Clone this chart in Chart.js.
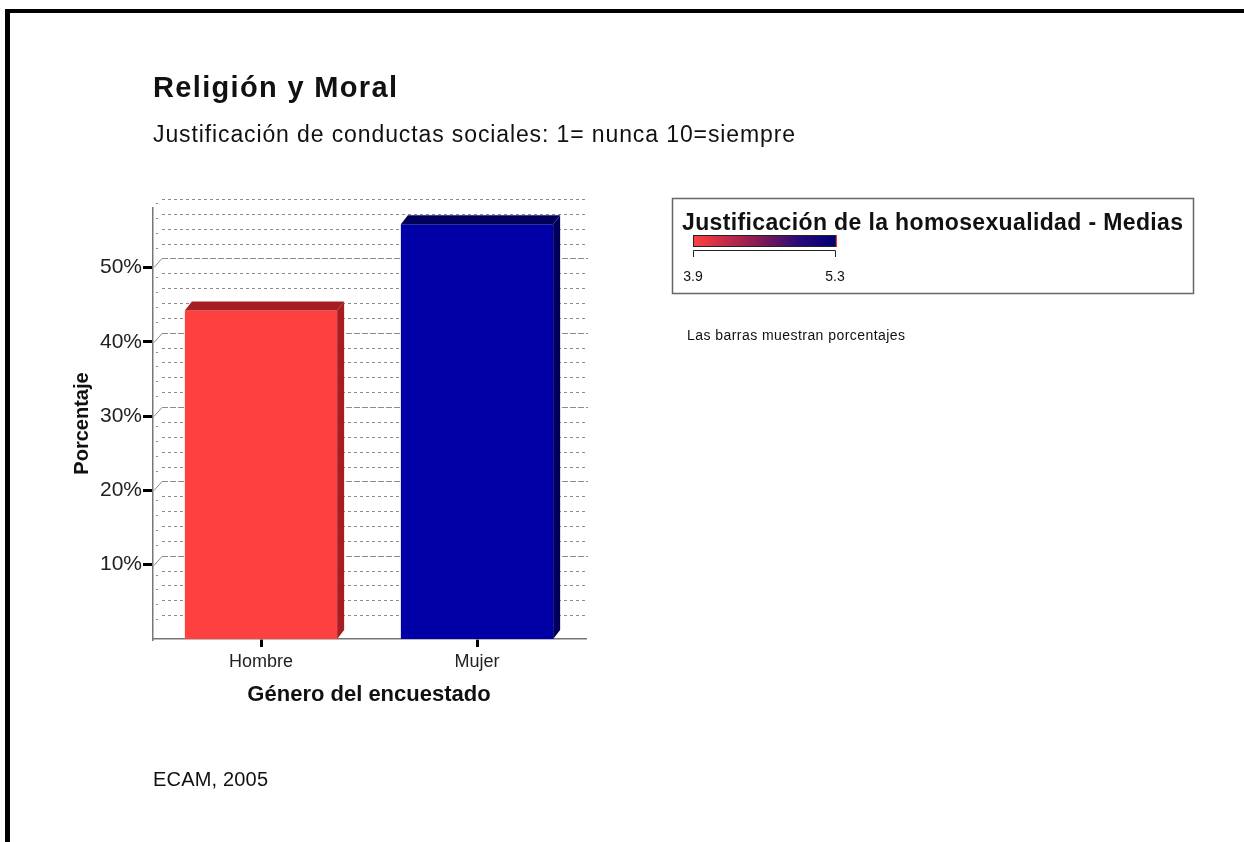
<!DOCTYPE html>
<html lang="es">
<head>
<meta charset="UTF-8">
<title>Religión y Moral</title>
<script src="https://cdn.jsdelivr.net/npm/chart.js"></script>
<style>
    body { margin: 0; background: #fff; }
    #wrap { width: 1244px; height: 842px; position: relative; }
</style>
</head>
<body>
<div id="wrap"><canvas id="chart" width="1244" height="842"></canvas></div>
<script>
    // datos
    const categorias = ['Hombre', 'Mujer'];
    const porcentajes = [44.2, 55.8];
    const medias = [3.9, 5.3];
    const ticksY = [10, 20, 30, 40, 50];
    const coloresFrente = ['#ff4040', '#0000a6'];
    const coloresLado = ['#a61e22', '#00005a'];

    const FONT = '"Liberation Sans", Arial, sans-serif';
    const DX = 7, DY = 9; // profundidad del efecto 3D

    // texto con espaciado ajustado a un ancho dado
    function textoAncho(ctx, txt, x, y, font, ancho) {
        ctx.save();
        ctx.font = font;
        ctx.letterSpacing = '0px';
        const w = ctx.measureText(txt).width;
        if (ancho) ctx.letterSpacing = ((ancho - w) / (txt.length - 1)) + 'px';
        ctx.fillText(txt, x, y);
        ctx.restore();
    }

    // pared del fondo con las líneas de rejilla
    const pared = {
        id: 'pared',
        beforeDatasetsDraw(chart) {
            const { ctx, chartArea, scales } = chart;
            const y = scales.y;
            ctx.save();
            ctx.strokeStyle = '#8c8c8c';
            ctx.lineWidth = 1;
            for (let v = 2; v <= 58; v += 2) {
                const py = Math.round(y.getPixelForValue(v) - DY) + 0.5;
                const mayor = v % 10 === 0;
                ctx.setLineDash(mayor ? [6, 2] : [3, 3]);
                ctx.beginPath();
                ctx.moveTo(chartArea.left + DX + 2, py);
                ctx.lineTo(chartArea.right + 3, py);
                ctx.stroke();
                ctx.setLineDash([]);
                ctx.beginPath();
                if (mayor) {
                    ctx.moveTo(chartArea.left + 1, py + DY);
                    ctx.lineTo(chartArea.left + DX + 2, py);
                } else {
                    ctx.moveTo(chartArea.left + 3, py + 4);
                    ctx.lineTo(chartArea.left + 5, py + 4);
                }
                ctx.stroke();
            }
            ctx.restore();
        },
        afterDatasetsDraw(chart) {
            // caras superior y lateral de las barras
            const { ctx } = chart;
            const meta = chart.getDatasetMeta(0);
            ctx.save();
            meta.data.forEach((bar, i) => {
                const l = bar.x - bar.width / 2, r = bar.x + bar.width / 2;
                const t = bar.y, b = bar.base;
                ctx.fillStyle = coloresLado[i];
                ctx.beginPath();
                ctx.moveTo(l, t);
                ctx.lineTo(r, t);
                ctx.lineTo(r + DX, t - DY);
                ctx.lineTo(l + DX, t - DY);
                ctx.closePath();
                ctx.fill();
                ctx.beginPath();
                ctx.moveTo(r, t);
                ctx.lineTo(r + DX, t - DY);
                ctx.lineTo(r + DX, b - DY);
                ctx.lineTo(r, b);
                ctx.closePath();
                ctx.fill();
            });
            ctx.restore();
        }
    };

    // títulos, leyenda de medias, nota y marco
    const textos = {
        id: 'textos',
        afterDraw(chart) {
            const ctx = chart.ctx;
            ctx.save();
            ctx.fillStyle = '#000';
            ctx.fillRect(5, 9, 1239, 4);
            ctx.fillRect(5, 9, 5, 833);

            ctx.fillStyle = '#111';
            ctx.textBaseline = 'alphabetic';
            ctx.textAlign = 'left';
            textoAncho(ctx, 'Religión y Moral', 153, 97, 'bold 29px ' + FONT, 244);
            textoAncho(ctx, 'Justificación de conductas sociales: 1= nunca 10=siempre', 153, 142, '23px ' + FONT, 642);
            textoAncho(ctx, 'ECAM, 2005', 153, 786, '20px ' + FONT, 115);
            textoAncho(ctx, 'Las barras muestran porcentajes', 687, 340, '14px ' + FONT, 218);

            // caja de la leyenda
            ctx.strokeStyle = '#666';
            ctx.lineWidth = 1.5;
            ctx.strokeRect(672.5, 198.5, 521, 95);
            textoAncho(ctx, 'Justificación de la homosexualidad - Medias', 682, 230, 'bold 23px ' + FONT, 501);

            // barra de gradiente de medias
            const x0 = 693, x1 = 835;
            const g = ctx.createLinearGradient(x0, 0, x1, 0);
            g.addColorStop(0, coloresFrente[0]);
            g.addColorStop(0.45, '#8a1c52');
            g.addColorStop(0.75, '#2a0a78');
            g.addColorStop(1, '#00007a');
            ctx.fillStyle = g;
            ctx.fillRect(x0, 235, x1 - x0, 12);
            ctx.fillStyle = '#ff2a2a';
            ctx.fillRect(x1, 235, 2, 12);
            ctx.strokeStyle = '#222';
            ctx.lineWidth = 1;
            ctx.strokeRect(x0 + 0.5, 235.5, x1 - x0, 11);
            ctx.beginPath();
            ctx.moveTo(x0 + 0.5, 257);
            ctx.lineTo(x0 + 0.5, 250.5);
            ctx.lineTo(x1 + 0.5, 250.5);
            ctx.lineTo(x1 + 0.5, 257);
            ctx.stroke();
            ctx.fillStyle = '#111';
            ctx.font = '14px ' + FONT;
            ctx.textAlign = 'center';
            ctx.fillText(medias[0].toFixed(1), x0, 281);
            ctx.fillText(medias[1].toFixed(1), x1, 281);
            ctx.restore();
        }
    };

    new Chart(document.getElementById('chart'), {
        type: 'bar',
        data: {
            labels: categorias,
            datasets: [{
                data: porcentajes,
                backgroundColor: coloresFrente,
                borderWidth: 0,
                barPercentage: 0.705,
                categoryPercentage: 1
            }]
        },
        options: {
            responsive: false,
            animation: false,
            devicePixelRatio: 1,
            layout: { padding: { left: 70, top: 208, right: 659, bottom: 134 } },
            plugins: { legend: { display: false }, tooltip: { enabled: false } },
            scales: {
                x: {
                    afterFit: s => { s.height = 69; },
                    grid: { offset: false, drawOnChartArea: false, drawTicks: true, tickLength: 8, color: '#000', lineWidth: 3 },
                    border: { display: true, color: '#777', width: 1.5 },
                    ticks: { color: '#222', padding: 4, font: { family: FONT, size: 18 } },
                    title: { display: true, text: 'Género del encuestado', color: '#111', padding: 0, font: { family: FONT, size: 22, weight: 'bold' } }
                },
                y: {
                    min: 0,
                    max: 58,
                    afterFit: s => { s.width = 83; },
                    afterBuildTicks: s => { s.ticks = ticksY.map(v => ({ value: v })); },
                    grid: { drawOnChartArea: false, drawTicks: true, tickLength: 10, color: '#000', lineWidth: 3 },
                    border: { display: true, color: '#777', width: 1.5 },
                    ticks: { color: '#222', padding: 1, font: { family: FONT, size: 21 }, callback: v => v + '%' },
                    title: { display: true, text: 'Porcentaje', color: '#111', padding: 0, font: { family: FONT, size: 20, weight: 'bold' } }
                }
            }
        },
        plugins: [pared, textos]
    });
</script>
</body>
</html>
